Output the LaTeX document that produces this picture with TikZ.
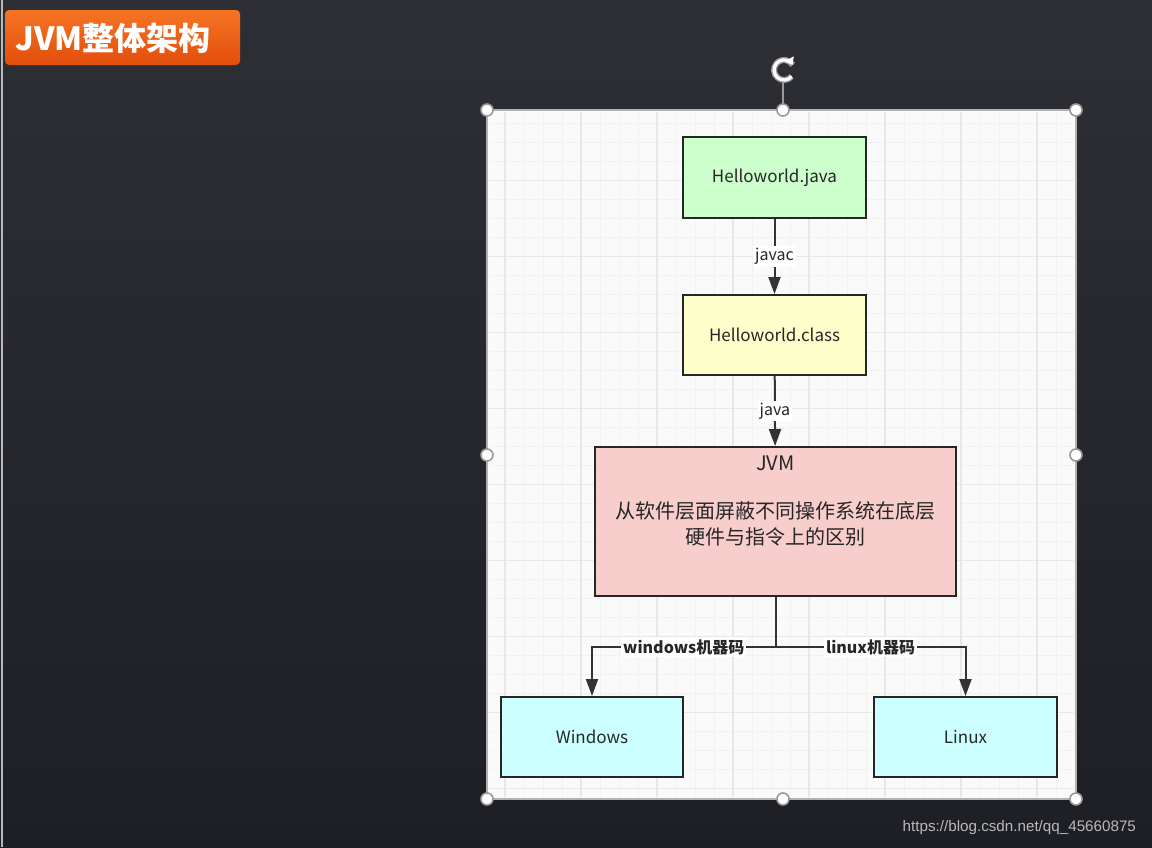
\documentclass[tikz,border=0pt]{standalone}
\usepackage{fontspec}
\setmainfont{Noto Sans CJK SC}
\newfontfamily\filigrane{Liberation Sans}
\usetikzlibrary{arrows.meta}
\definecolor{fondhaut}{RGB}{46,47,52}
\definecolor{fondbas}{RGB}{30,31,36}
\definecolor{orangehaut}{RGB}{246,116,36}
\definecolor{orangebas}{RGB}{226,78,12}
\definecolor{vertjava}{RGB}{204,255,204}
\definecolor{jauneclass}{RGB}{255,255,204}
\definecolor{rosejvm}{RGB}{248,206,204}
\definecolor{cyanos}{RGB}{204,255,255}
\begin{document}
\begin{tikzpicture}[x=0.5pt,y=-0.5pt]
	% Styles
	\tikzstyle{boite}=[draw=black!85,line width=1pt,text=black!85,font=\fontsize{8.5}{10}\selectfont]
	\tikzstyle{trait}=[-,line width=1pt,draw=black!80]
	\tikzstyle{fleche}=[trait,-{Triangle[length=8.5pt,width=6pt]}]
	\tikzstyle{etiquette}=[fill=white,inner sep=1pt,text=black!85,font=\fontsize{8}{9}\selectfont]
	\tikzstyle{poignee}=[circle,draw=gray!80,fill=white,line width=0.8pt,minimum size=6pt,inner sep=0pt]
	\tikzstyle{grillefine}=[line width=0.5pt,draw=black!5]
	\tikzstyle{grilleforte}=[line width=0.6pt,draw=black!9]
	% Dimensions
	\def\Px{0.5pt}
	\def\LargeurBoite{183*\Px}
	\def\HauteurBoite{80*\Px}
	% Fond
	\useasboundingbox (0,0) rectangle (1152,847);
	\shade[top color=fondhaut,bottom color=fondbas] (0,0) rectangle (1152,847);
	\draw[gray!55,line width=0.6pt] (2,0) -- (2,847);
	% Titre
	\node[rounded corners=2pt,top color=orangehaut,bottom color=orangebas,minimum width=235*\Px,minimum height=55*\Px] (bandeau) at (122.5,37.5) {};
	\node[text=white,font=\fontsize{16}{18}\selectfont\bfseries] (titre) at (113,38) {JVM整体架构};
	% Feuille
	\fill[white!98!black] (487,110) rectangle (1076,799);
	\foreach \i in {1,...,30}
		\draw[grillefine] ({486+19*\i},112) -- ({486+19*\i},797);
	\foreach \j in {1,...,36}
		\draw[grillefine] (489,{104.7+19*\j}) -- (1074,{104.7+19*\j});
	\foreach \i in {1,5,...,29}
		\draw[grilleforte] ({486+19*\i},112) -- ({486+19*\i},797);
	\foreach \j in {4,8,...,36}
		\draw[grilleforte] (489,{104.7+19*\j}) -- (1074,{104.7+19*\j});
	\draw[gray!60,line width=0.6pt] (487,110) rectangle (1076,799);
	% Noeuds
	\node[boite,fill=vertjava,minimum width=\LargeurBoite,minimum height=81*\Px] (java) at (774.5,177.5) {Helloworld.java};
	\node[boite,fill=jauneclass,minimum width=\LargeurBoite,minimum height=\HauteurBoite] (class) at (774.5,335) {Helloworld.class};
	\node[boite,fill=rosejvm,minimum width=361*\Px,minimum height=149*\Px] (jvm) at (775.5,521.5) {};
	\node[text=black!85,font=\fontsize{10}{12}\selectfont] (jvmtitre) at (775.5,463) {JVM};
	\node[text=black!85,font=\fontsize{10}{13}\selectfont,align=center] (jvmtexte) at (775.5,524) {从软件层面屏蔽不同操作系统在底层\\硬件与指令上的区别};
	\node[boite,fill=cyanos,minimum width=182*\Px,minimum height=\HauteurBoite] (windows) at (592,737) {Windows};
	\node[boite,fill=cyanos,minimum width=\LargeurBoite,minimum height=\HauteurBoite] (linux) at (965.5,737) {Linux};
	\coordinate (branche) at (775.5,647);
	% Arcs
	\draw[fleche] (java) -- (class) node[etiquette,midway] {javac};
	\draw[fleche] (class) -- (jvm) node[etiquette,midway] {java};
	\draw[trait] (jvm.south) -- (branche);
	\draw[fleche] (branche) -| (windows.north) node[etiquette,pos=0.25,font=\fontsize{8}{9}\selectfont\bfseries] {windows机器码};
	\draw[fleche] (branche) -| (linux.north) node[etiquette,pos=0.25,font=\fontsize{8}{9}\selectfont\bfseries] {linux机器码};
	% Poignees
	\draw[gray!80,line width=0.8pt] (783,82) -- (783,104);
	\draw[gray!80,line width=3pt] (791.7,76.4) arc[start angle=40,end angle=330,radius=10];
	\draw[white,line width=1.6pt,-{Triangle[length=3.5pt,width=5pt]}] (791.7,76.4) arc[start angle=40,end angle=330,radius=10];
	\foreach \nom/\x/\y in {pa/487/110,pb/783/110,pc/1076/110,pd/487/455,pe/1076/455,pf/487/799,pg/783/799,ph/1076/799}
		\node[poignee] (\nom) at (\x,\y) {};
	% Source
	\node[anchor=east,text=gray!55,font=\filigrane\fontsize{7.6}{9}\selectfont] (source) at (1143,828) {https://blog.csdn.net/qq\_45660875};
\end{tikzpicture}
\end{document}
